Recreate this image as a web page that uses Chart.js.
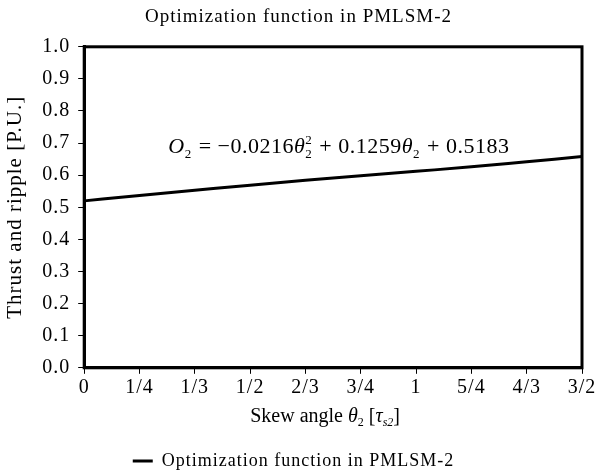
<!DOCTYPE html>
<html>
<head>
<meta charset="utf-8">
<script src="https://cdn.jsdelivr.net/npm/chart.js@4"></script>
<style>
  html, body { margin: 0; padding: 0; background: #fff; }
  #wrap { width: 601px; height: 473px; }
</style>
</head>
<body>
<div id="wrap"><canvas id="chart" width="601" height="473"></canvas></div>
<script>
// data
const skewLabels = ['0', '1/4', '1/3', '1/2', '2/3', '3/4', '1', '5/4', '4/3', '3/2'];
const objectiveValues = [0.520, 0.537, 0.553, 0.569, 0.584, 0.598, 0.612, 0.626, 0.642, 0.658];
const seriesName = 'Optimization function in PMLSM-2';

const serif = "'Liberation Serif', 'DejaVu Serif', serif";

// the reference uses a slightly spaced-out Times
const spacingPlugin = {
    id: 'spacing',
    beforeLayout(chart) { chart.ctx.letterSpacing = '1px'; },
    beforeDraw(chart) { chart.ctx.letterSpacing = '1px'; }
};

function drawRuns(ctx, runs, x, y) {
    runs.forEach(r => {
        ctx.font = r.f;
        ctx.fillText(r.t, x, y + (r.dy || 0));
        if (r.sup) ctx.fillText(r.sup, x, y - 9);
        x += ctx.measureText(r.t).width + (r.gap || 0);
    });
    return x;
}
function runsWidth(ctx, runs) {
    let w = 0;
    runs.forEach(r => { ctx.font = r.f; w += ctx.measureText(r.t).width + (r.gap || 0); });
    return w;
}

// frame round the plot, the fitted equation and the x axis title
const framePlugin = {
    id: 'frame',
    afterDraw(chart) {
        const ctx = chart.ctx;
        const a = chart.chartArea;
        ctx.save();
        ctx.strokeStyle = '#000';
        ctx.lineWidth = 3;
        ctx.strokeRect(a.left, a.top, a.right - a.left, a.bottom - a.top);

        ctx.fillStyle = '#000';
        ctx.textBaseline = 'alphabetic';
        ctx.textAlign = 'left';
        ctx.letterSpacing = '0.5px';

        const big = 22, small = 13;
        const eq = [
            { t: 'O', f: 'italic ' + big + 'px ' + serif },
            { t: '2', f: small + 'px ' + serif, dy: 5, gap: 1 },
            { t: ' = \u22120.0216', f: big + 'px ' + serif },
            { t: '\u03b8', f: 'italic ' + big + 'px ' + serif },
            { t: '2', f: small + 'px ' + serif, dy: 5, sup: '2', gap: 1 },
            { t: ' + 0.1259', f: big + 'px ' + serif },
            { t: '\u03b8', f: 'italic ' + big + 'px ' + serif },
            { t: '2', f: small + 'px ' + serif, dy: 5, gap: 1 },
            { t: ' + 0.5183', f: big + 'px ' + serif }
        ];
        drawRuns(ctx, eq, chart.scales.x.getPixelForValue(1.52), chart.scales.y.getPixelForValue(0.669));

        ctx.letterSpacing = '0px';
        const xt = [
            { t: 'Skew angle ', f: '20px ' + serif },
            { t: '\u03b8', f: 'italic 20px ' + serif },
            { t: '2', f: '12px ' + serif, dy: 4, gap: 5 },
            { t: '[', f: '20px ' + serif },
            { t: '\u03c4', f: 'italic 20px ' + serif },
            { t: 's2', f: 'italic 12px ' + serif, dy: 4 },
            { t: ']', f: '20px ' + serif }
        ];
        const w = runsWidth(ctx, xt);
        drawRuns(ctx, xt, (a.left + a.right) / 2 - w / 2 - 8, a.bottom + 54);
        ctx.restore();
    }
};

const ctx = document.getElementById('chart').getContext('2d');
new Chart(ctx, {
    type: 'line',
    data: {
        labels: skewLabels,
        datasets: [{
            label: seriesName,
            data: objectiveValues,
            borderColor: '#000',
            backgroundColor: '#000',
            borderWidth: 3,
            pointRadius: 0,
            tension: 0.4,
            cubicInterpolationMode: 'monotone',
            fill: false
        }]
    },
    options: {
        responsive: false,
        animation: false,
        layout: { padding: { left: 3, right: 7, top: 0, bottom: -7 } },
        plugins: {
            title: {
                display: true,
                text: 'Optimization function in PMLSM-2',
                color: '#000',
                font: { family: serif, size: 19, weight: 'normal' },
                padding: { top: 6, bottom: 18 }
            },
            legend: {
                position: 'bottom',
                labels: {
                    color: '#000',
                    font: { family: serif, size: 18 },
                    usePointStyle: true,
                    pointStyle: 'line',
                    pointStyleWidth: 20,
                    padding: 1,
                    generateLabels: chart =>
                        Chart.defaults.plugins.legend.labels.generateLabels(chart)
                            .map(l => Object.assign(l, { text: l.text + '\u2002' }))
                }
            },
            tooltip: { enabled: false }
        },
        scales: {
            x: {
                offset: false,
                afterFit: scale => { scale.paddingRight = 19; },
                grid: { drawOnChartArea: false, color: '#000', tickLength: 6, lineWidth: 1 },
                border: { color: '#000', width: 3 },
                ticks: {
                    color: '#000',
                    font: { family: serif, size: 20 },
                    maxRotation: 0,
                    autoSkip: false,
                    padding: 2
                },
                title: {
                    display: true,
                    text: ' ',
                    font: { family: serif, size: 21 },
                    padding: { top: 4, bottom: 20 }
                }
            },
            y: {
                min: 0,
                max: 1,
                grid: { drawOnChartArea: false, color: '#000', tickLength: 6, lineWidth: 1 },
                border: { color: '#000', width: 3 },
                ticks: {
                    stepSize: 0.1,
                    color: '#000',
                    font: { family: serif, size: 20 },
                    padding: 8,
                    callback: v => v.toFixed(1)
                },
                title: {
                    display: true,
                    text: 'Thrust and ripple [P.U.]',
                    color: '#000',
                    font: { family: serif, size: 21 },
                    padding: { top: 0, bottom: 6 }
                }
            }
        }
    },
    plugins: [spacingPlugin, framePlugin]
});
</script>
</body>
</html>
